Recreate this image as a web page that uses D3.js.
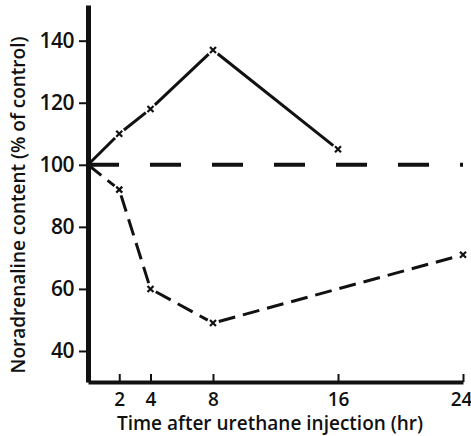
<!DOCTYPE html>
<html>
<head>
<meta charset="utf-8">
<script src="https://cdn.jsdelivr.net/npm/d3@7"></script>
<style>
  body { margin: 0; background: #fff; }
  svg text { font-family: "Open Sans", Lato, sans-serif; font-weight: 600; fill: #111; }
</style>
</head>
<body>
<svg id="chart"></svg>
<script>
const width = 471;
const height = 436;

// rising series (solid line)
const upHours = [0, 2, 4, 8, 16];
const upValues = [100, 110, 118, 137, 105];
// falling series (short dashes)
const downHours = [0, 2, 4, 8, 24];
const downValues = [100, 92, 60, 49, 71];
// control level
const controlLevel = 100;

const xTicks = [2, 4, 8, 16, 24];
const yTicks = [40, 60, 80, 100, 120, 140];

const svg = d3.select("#chart")
    .attr("width", width)
    .attr("height", height);

const x = d3.scaleLinear().domain([0, 24]).range([88, 463]);
const y = d3.scaleLinear().domain([30, 151.5]).range([382, 5]);

// y axis, ticks outside
const yAxis = svg.append("g")
    .attr("transform", `translate(${x(0)},0)`)
    .call(d3.axisLeft(y).tickValues(yTicks).tickSize(9).tickPadding(5).tickSizeOuter(0));
yAxis.select(".domain").attr("stroke", "#111").attr("stroke-width", 5);
yAxis.selectAll(".tick line").attr("stroke", "#111").attr("stroke-width", 2);
yAxis.selectAll(".tick text").attr("font-size", 21).attr("font-weight", 700).attr("letter-spacing", -0.5);

// x axis, ticks inside
const xAxis = svg.append("g")
    .attr("transform", `translate(0,${y(30)})`)
    .call(d3.axisBottom(x).tickValues(xTicks).tickSize(-8).tickPadding(11).tickSizeOuter(0));
xAxis.select(".domain").attr("stroke", "#111").attr("stroke-width", 4);
xAxis.selectAll(".tick line").attr("stroke", "#111").attr("stroke-width", 2);
xAxis.selectAll(".tick text").attr("font-size", 19).attr("font-weight", 700)
    .attr("dx", d => d === 24 ? -2 : 0);

// axis titles
svg.append("text")
    .attr("x", 270)
    .attr("y", 430)
    .attr("text-anchor", "middle")
    .attr("font-size", 19)
    .text("Time after urethane injection (hr)");

svg.append("text")
    .attr("transform", `translate(25,${205}) rotate(-90)`)
    .attr("text-anchor", "middle")
    .attr("font-size", 19)
    .text("Noradrenaline content (% of control)");

// dashed control line
svg.append("line")
    .attr("x1", x(0)).attr("x2", x(24))
    .attr("y1", y(controlLevel)).attr("y2", y(controlLevel))
    .attr("stroke", "#111")
    .attr("stroke-width", 4)
    .attr("stroke-dasharray", "31,31");

// segments stop short of each marker
function drawSeries(hours, values, dash, gap) {
  const pts = hours.map((h, i) => [x(h), y(values[i])]);
  const g = svg.append("g");
  for (let i = 0; i < pts.length - 1; i++) {
    const [x1, y1] = pts[i];
    const [x2, y2] = pts[i + 1];
    const len = Math.hypot(x2 - x1, y2 - y1);
    const ux = (x2 - x1) / len, uy = (y2 - y1) / len;
    const g1 = i === 0 ? 0 : gap;
    g.append("line")
      .attr("x1", x1 + ux * g1).attr("y1", y1 + uy * g1)
      .attr("x2", x2 - ux * gap).attr("y2", y2 - uy * gap)
      .attr("stroke", "#111")
      .attr("stroke-width", 3)
      .attr("stroke-dasharray", dash);
  }
  // little x markers
  g.selectAll("path.mark")
    .data(pts.slice(1))
    .join("path")
      .attr("class", "mark")
      .attr("d", d => `M${d[0]-3},${d[1]-3}L${d[0]+3},${d[1]+3}M${d[0]+3},${d[1]-3}L${d[0]-3},${d[1]+3}`)
      .attr("stroke", "#111")
      .attr("stroke-width", 2.2);
}

drawSeries(upHours, upValues, null, 6);
drawSeries(downHours, downValues, "17,8", 6);
</script>
</body>
</html>
